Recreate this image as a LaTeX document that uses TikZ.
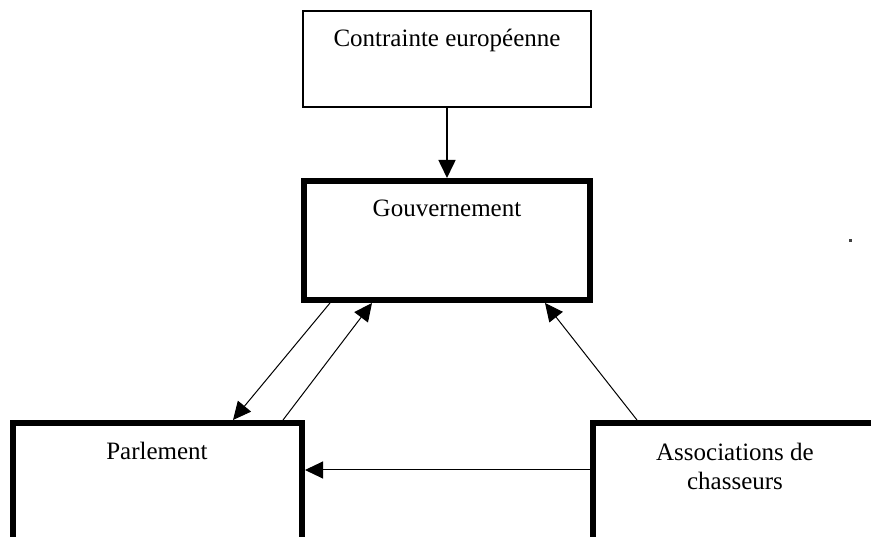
\documentclass[tikz,border=0pt]{standalone}
\usepackage{fontspec}
\setmainfont{Liberation Serif}
\usetikzlibrary{arrows.meta}
\tikzset{>={Triangle[length=18pt,width=17pt]}}
\tikzstyle{thinbox}=[draw=black,line width=1.5pt,inner sep=0pt]
\tikzstyle{thickbox}=[draw=black,line width=6pt,inner sep=0pt]
\tikzstyle{boxtext}=[font=\fontsize{25}{29}\selectfont,align=center,inner sep=0pt]
\tikzstyle{thinline}=[draw=black,line width=1pt]

\begin{document}
\begin{tikzpicture}[x=1pt,y=-1pt]
  \useasboundingbox (0,0) rectangle (871,537);
  \clip (0,0) rectangle (871,537);

  \node [thinbox,minimum width=288pt,minimum height=96pt] (contrainte) at (447,59) {};
  \node [thickbox,minimum width=286pt,minimum height=119pt] (gouv) at (447,240.5) {};
  \node [thickbox,minimum width=289pt,minimum height=200pt] (parl) at (157.5,523) {};
  \node [thickbox,minimum width=284pt,minimum height=200pt] (assoc) at (735,523) {};

  \node [boxtext] (contraintetxt) at (447,40) {Contrainte européenne};
  \node [boxtext] (gouvtxt) at (447,208) {Gouvernement};
  \node [boxtext] (parltxt) at (157,451) {Parlement};
  \node [boxtext] (assoctxt) at (735,466) {Associations de\\chasseurs};

  \draw [->,line width=1.6pt] (contrainte.south) -- (gouv.north);
  \draw [->,thinline] ([xshift=29pt]gouv.south west) -- ([xshift=223pt]parl.north west);
  \draw [->,thinline] ([xshift=273pt]parl.north west) -- ([xshift=71pt]gouv.south west);
  \draw [->,thinline] ([xshift=47pt]assoc.north west) -- ([xshift=244pt]gouv.south west);
  \draw [->,thinline] ([yshift=-50pt]assoc.north west) -- ([yshift=-50pt]parl.north east);

  %\draw [dashed] (0,300) -- (871,300);
  \fill [darkgray] (849,239) rectangle (852,242);
\end{tikzpicture}
\end{document}
